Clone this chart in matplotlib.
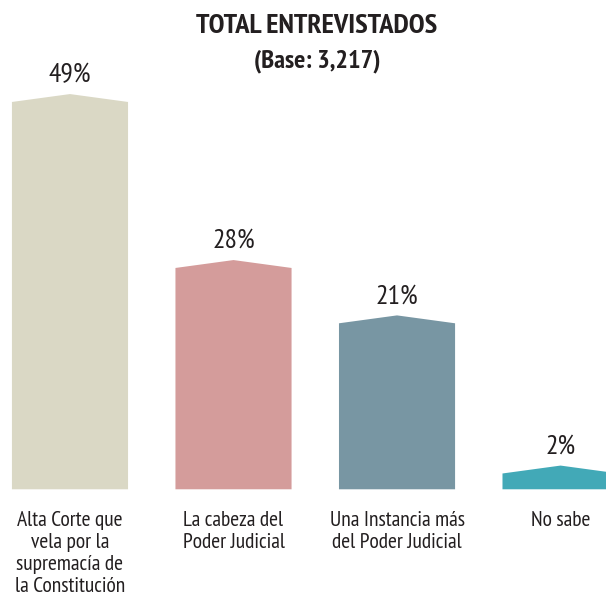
import matplotlib
matplotlib.use("Agg")
import matplotlib.pyplot as plt
from matplotlib.patches import Polygon

# Datos
categorias = ['Alta Corte que\nvela por la\nsupremacía de\nla Constitución',
              'La cabeza del\nPoder Judicial',
              'Una Instancia más\ndel Poder Judicial',
              'No sabe']
valores = [49, 28, 21, 2]
etiquetas = ['49%', '28%', '21%', '2%']
colores = ['#DAD8C5', '#D49C9B', '#7896A3', '#42A9B7']

plt.rcParams['font.family'] = ['PT Sans Narrow', 'DejaVu Sans']

fig = plt.figure(figsize=(6.06, 5.96), dpi=100)
ax = fig.add_axes([0, 0, 1, 1])
ax.set_xlim(-0.428, 3.278)
ax.set_ylim(-13.5, 61.9)
ax.axis('off')

ancho = 0.71
pico = 1.0  # altura del pico sobre la barra
for i, v in enumerate(valores):
    x0, x1 = i - ancho / 2, i + ancho / 2
    forma = [(x0, 0), (x0, v), (i, v + pico), (x1, v), (x1, 0)]
    ax.add_patch(Polygon(forma, closed=True, facecolor=colores[i], edgecolor='none'))
    ax.text(i, v + pico + 0.9, etiquetas[i], ha='center', va='bottom',
            fontsize=20, color='#231F20')
    ax.text(i, -2.7, categorias[i], ha='center', va='top',
            fontsize=15.5, color='#231F20', linespacing=1.2)

fig.text(0.523, 0.957, 'TOTAL ENTREVISTADOS', ha='center', va='center',
         fontsize=20.5, fontweight='bold', color='#231F20')
fig.text(0.523, 0.897, '(Base: 3,217)', ha='center', va='center',
         fontsize=19, fontweight='bold', color='#231F20')

fig.savefig('out.png', dpi=100)
